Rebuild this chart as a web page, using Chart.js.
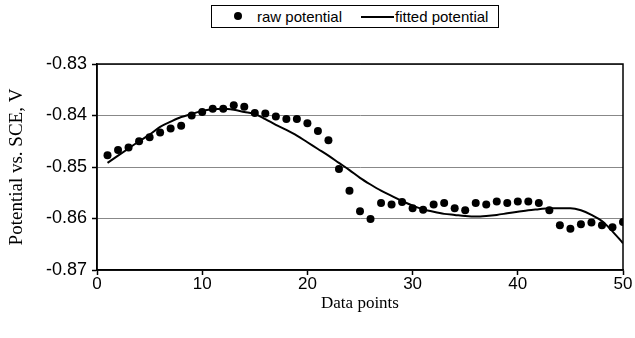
<!DOCTYPE html>
<html>
<head>
<meta charset="utf-8">
<script src="https://cdn.jsdelivr.net/npm/chart.js@4"></script>
<style>
  html, body { margin: 0; padding: 0; background: #fff; }
  #wrap { position: relative; width: 635px; height: 338px; }
  #legend {
    position: absolute; left: 211px; top: 5px; width: 288px; height: 23px;
    border: 1px solid #000; box-sizing: border-box; background: #fff;
    font-family: "Liberation Sans", Arial, sans-serif; font-size: 15px; color: #000;
  }
  #legend .dot { position: absolute; left: 22px; top: 6px; width: 8px; height: 8px; border-radius: 50%; background: #000; }
  #legend .t1 { position: absolute; left: 45px; top: 2px; white-space: nowrap; }
  #legend .ln { position: absolute; left: 149px; top: 10px; width: 33px; height: 2px; background: #000; }
  #legend .t2 { position: absolute; left: 183px; top: 2px; white-space: nowrap; }
</style>
</head>
<body>
<div id="wrap">
  <canvas id="c" width="635" height="338"></canvas>
  <div id="legend"><span class="dot"></span><span class="t1">raw potential</span><span class="ln"></span><span class="t2">fitted potential</span></div>
</div>
<script>
const dataPoints = [1,2,3,4,5,6,7,8,9,10,11,12,13,14,15,16,17,18,19,20,21,22,23,24,25,26,27,28,29,30,31,32,33,34,35,36,37,38,39,40,41,42,43,44,45,46,47,48,49,50];
const rawPotential = [-0.8477,-0.8467,-0.8462,-0.8450,-0.8442,-0.8433,-0.8425,-0.8420,-0.8400,-0.8393,
  -0.8387,-0.8387,-0.8380,-0.8383,-0.8395,-0.8396,-0.8402,-0.8407,-0.8407,-0.8415,
  -0.8430,-0.8448,-0.8504,-0.8546,-0.8586,-0.8601,-0.8570,-0.8573,-0.8568,-0.8580,
  -0.8583,-0.8573,-0.8570,-0.8580,-0.8584,-0.8570,-0.8573,-0.8567,-0.8570,-0.8567,
  -0.8567,-0.8570,-0.8584,-0.8613,-0.8620,-0.8611,-0.8608,-0.8613,-0.8617,-0.8607];
const fittedPotential = [-0.8492,-0.8478,-0.8464,-0.8450,-0.8437,-0.8422,-0.8412,-0.8403,-0.8397,-0.8391,
  -0.8388,-0.8387,-0.8389,-0.8393,-0.8397,-0.8407,-0.8418,-0.8428,-0.8439,-0.8452,
  -0.8465,-0.8478,-0.8492,-0.8506,-0.8521,-0.8534,-0.8546,-0.8556,-0.8566,-0.8575,
  -0.8582,-0.8587,-0.8591,-0.8593,-0.8595,-0.8596,-0.8595,-0.8593,-0.8590,-0.8587,
  -0.8584,-0.8582,-0.8580,-0.8580,-0.8580,-0.8584,-0.8593,-0.8605,-0.8625,-0.8648];
const xTickValues = [0,10,20,30,40,50];
const yTickValues = [-0.83,-0.84,-0.85,-0.86,-0.87];
const xTitle = 'Data points';
const yTitle = 'Potential vs. SCE, V';

const frame = {
  id: 'frame',
  beforeDatasetsDraw(chart) {
    const a = chart.chartArea, ctx = chart.ctx;
    ctx.save();
    ctx.strokeStyle = '#000';
    ctx.lineWidth = 1.5;
    ctx.strokeRect(a.left, a.top, a.right - a.left, a.bottom - a.top);
    ctx.restore();
  }
};

new Chart(document.getElementById('c'), {
  type: 'scatter',
  data: {
    datasets: [
      {
        label: 'raw potential',
        data: dataPoints.map((x, i) => ({ x, y: rawPotential[i] })),
        showLine: false,
        pointRadius: 4,
        pointHoverRadius: 4,
        pointBackgroundColor: '#000',
        pointBorderWidth: 0,
        borderColor: '#000'
      },
      {
        label: 'fitted potential',
        data: dataPoints.map((x, i) => ({ x, y: fittedPotential[i] })),
        showLine: true,
        pointRadius: 0,
        borderColor: '#000',
        borderWidth: 2,
        cubicInterpolationMode: 'monotone'
      }
    ]
  },
  options: {
    responsive: false,
    animation: false,
    devicePixelRatio: 1,
    layout: { padding: { top: 64, right: 12, left: 0, bottom: 24 } },
    plugins: { legend: { display: false }, tooltip: { enabled: false } },
    scales: {
      x: {
        type: 'linear', min: 0, max: 50,
        afterBuildTicks(s) { s.ticks = xTickValues.map(v => ({ value: v })); },
        afterFit(s) { s.height = 44; },
        grid: { drawOnChartArea: false, tickLength: 5, tickColor: '#000', tickWidth: 1.5 },
        border: { color: '#000', width: 1.5 },
        ticks: { color: '#000', padding: -1, maxRotation: 0, font: { family: '"Liberation Sans", Arial, sans-serif', size: 17 } },
        title: { display: true, text: xTitle, color: '#000', padding: { top: 0, bottom: 0 }, font: { family: '"Liberation Serif", "Times New Roman", serif', size: 17 } }
      },
      y: {
        type: 'linear', min: -0.87, max: -0.83,
        afterBuildTicks(s) { s.ticks = yTickValues.map(v => ({ value: v })); },
        afterFit(s) { s.width = 97; },
        grid: { color: '#888', lineWidth: 1, tickLength: 5, tickColor: '#000', tickWidth: 1.5 },
        border: { color: '#000', width: 1.5 },
        ticks: { color: '#000', padding: 5, font: { family: '"Liberation Sans", Arial, sans-serif', size: 18 },
          callback: v => v.toFixed(2) },
        title: { display: true, text: yTitle, color: '#000', padding: { top: 6, bottom: 0 }, font: { family: '"Liberation Serif", "Times New Roman", serif', size: 19 } }
      }
    }
  },
  plugins: [frame]
});
</script>
</body>
</html>
